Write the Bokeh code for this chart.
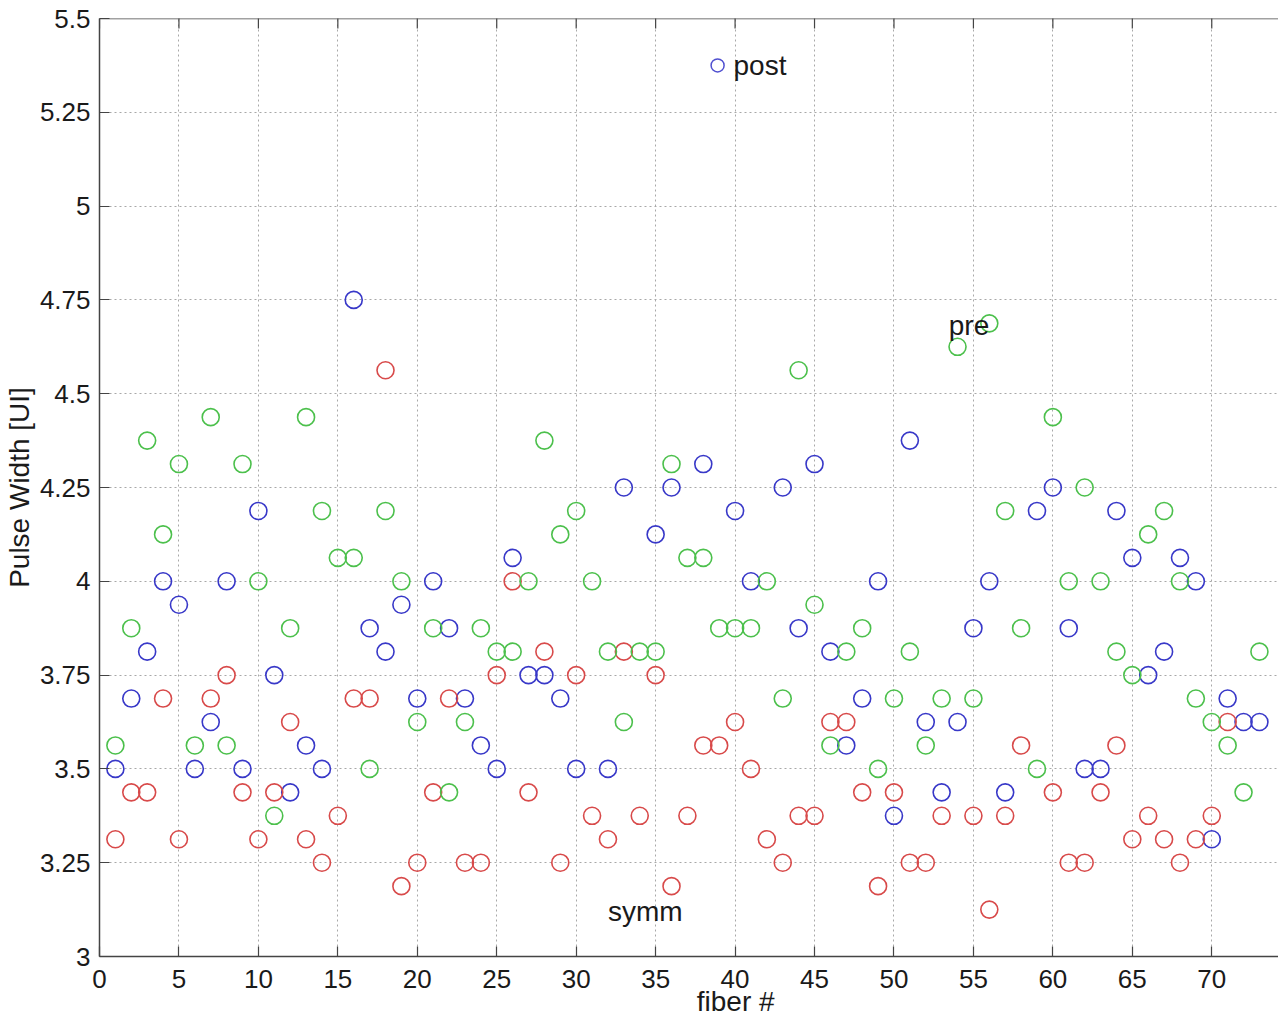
import math
import numpy as np
from bokeh.plotting import figure
from bokeh.models import FixedTicker, Range1d, ColumnDataSource, Span
from bokeh.core.properties import value
from bokeh.embed import file_html
from bokeh.resources import INLINE

NaN = float("nan")

fiber = list(range(1, 74))

post = [3.5, 3.6875, 3.8125, 4.0, 3.9375, 3.5, 3.625, 4.0, 3.5, 4.1875,
        3.75, 3.4375, 3.5625, 3.5, NaN, 4.75, 3.875, 3.8125, 3.9375, 3.6875,
        4.0, 3.875, 3.6875, 3.5625, 3.5, 4.0625, 3.75, 3.75, 3.6875, 3.5,
        NaN, 3.5, 4.25, NaN, 4.125, 4.25, NaN, 4.3125, NaN, 4.1875,
        4.0, NaN, 4.25, 3.875, 4.3125, 3.8125, 3.5625, 3.6875, 4.0, 3.375,
        4.375, 3.625, 3.4375, 3.625, 3.875, 4.0, 3.4375, NaN, 4.1875, 4.25,
        3.875, 3.5, 3.5, 4.1875, 4.0625, 3.75, 3.8125, 4.0625, 4.0, 3.3125,
        3.6875, 3.625, 3.625]

symm = [3.3125, 3.4375, 3.4375, 3.6875, 3.3125, NaN, 3.6875, 3.75, 3.4375, 3.3125,
        3.4375, 3.625, 3.3125, 3.25, 3.375, 3.6875, 3.6875, 4.5625, 3.1875, 3.25,
        3.4375, 3.6875, 3.25, 3.25, 3.75, 4.0, 3.4375, 3.8125, 3.25, 3.75,
        3.375, 3.3125, 3.8125, 3.375, 3.75, 3.1875, 3.375, 3.5625, 3.5625, 3.625,
        3.5, 3.3125, 3.25, 3.375, 3.375, 3.625, 3.625, 3.4375, 3.1875, 3.4375,
        3.25, 3.25, 3.375, NaN, 3.375, 3.125, 3.375, 3.5625, NaN, 3.4375,
        3.25, 3.25, 3.4375, 3.5625, 3.3125, 3.375, 3.3125, 3.25, 3.3125, 3.375,
        3.625, NaN, NaN]

pre = [3.5625, 3.875, 4.375, 4.125, 4.3125, 3.5625, 4.4375, 3.5625, 4.3125, 4.0,
       3.375, 3.875, 4.4375, 4.1875, 4.0625, 4.0625, 3.5, 4.1875, 4.0, 3.625,
       3.875, 3.4375, 3.625, 3.875, 3.8125, 3.8125, 4.0, 4.375, 4.125, 4.1875,
       4.0, 3.8125, 3.625, 3.8125, 3.8125, 4.3125, 4.0625, 4.0625, 3.875, 3.875,
       3.875, 4.0, 3.6875, 4.5625, 3.9375, 3.5625, 3.8125, 3.875, 3.5, 3.6875,
       3.8125, 3.5625, 3.6875, 4.625, 3.6875, 4.6875, 4.1875, 3.875, 3.5, 4.4375,
       4.0, 4.25, 4.0, 3.8125, 3.75, 4.125, 4.1875, 4.0, 3.6875, 3.625,
       3.5625, 3.4375, 3.8125]

x_ticks = list(range(0, 71, 5))
y_ticks = [3.0, 3.25, 3.5, 3.75, 4.0, 4.25, 4.5, 4.75, 5.0, 5.25, 5.5]
y_tick_labels = ["3", "3.25", "3.5", "3.75", "4", "4.25", "4.5", "4.75", "5", "5.25", "5.5"]
x_min, x_max = 0, 74.2      # the original axes run further right; the picture is cut here
y_min, y_max = 3.0, 5.5

# text annotations in the plot (label, x, y)
notes = [("post", 39.9, 5.375), ("pre", 53.45, 4.683), ("symm", 32.0, 3.12)]
post_marker = (38.9, 5.375)

FONT = "Liberation Sans"
AXC = "#444444"
TXT = "#1a1a1a"

p = figure(width=1278, height=1019, output_backend="svg", toolbar_location=None,
           x_range=Range1d(x_min, x_max), y_range=Range1d(y_min, y_max),
           min_border_left=99, min_border_right=0, min_border_top=18, min_border_bottom=62)
p.background_fill_color = "white"
p.border_fill_color = "white"
p.outline_line_color = None

xax = p.below[0]
yax = p.left[0]
xax.ticker = FixedTicker(ticks=x_ticks)
yax.ticker = FixedTicker(ticks=y_ticks)

for ax in (xax, yax):
    ax.major_tick_in = 10
    ax.major_tick_out = 0
    ax.minor_tick_line_color = None
    ax.axis_line_color = AXC
    ax.axis_line_width = 1.5
    ax.major_tick_line_color = AXC
    ax.major_tick_line_width = 1.2
    ax.major_label_text_font = FONT
    ax.major_label_text_font_size = "26px"
    ax.major_label_text_color = TXT
    ax.axis_label_text_font = FONT
    ax.axis_label_text_font_size = "28px"
    ax.axis_label_text_font_style = "normal"
    ax.axis_label_text_color = TXT

yax.major_label_overrides = {t: l for t, l in zip(y_ticks, y_tick_labels)}
yax.axis_label = "Pulse Width [UI]"
# the original x label is centred on the full (wider, cut-off) axes, so it sits right of centre
xax.axis_label = "\u00a0" * 12 + "fiber #"
xax.major_label_standoff = 13
xax.axis_label_standoff = -5
yax.major_label_standoff = 9
yax.axis_label_standoff = 2

p.xgrid.ticker = FixedTicker(ticks=x_ticks)
p.ygrid.ticker = FixedTicker(ticks=y_ticks)
for g in (p.xgrid[0], p.ygrid[0]):
    g.grid_line_color = "#a8a8a8"
    g.grid_line_dash = "2 3"
    g.grid_line_width = 1

# top border of the box and its inward ticks
p.add_layout(Span(location=y_max, dimension="width", line_color=AXC, line_width=1.5))
p.scatter(x_ticks, [y_max] * len(x_ticks), marker="dash", size=20, angle=math.pi / 2,
          line_color=AXC, line_width=1.2)

src = ColumnDataSource(dict(fiber=fiber, post=np.array(post), symm=np.array(symm), pre=np.array(pre)))

p.scatter("fiber", "post", source=src, marker="circle", size=17, fill_color=None,
          line_color="#3838c8", line_width=1.6)
p.scatter("fiber", "symm", source=src, marker="circle", size=17, fill_color=None,
          line_color="#d84a4a", line_width=1.6)
p.scatter("fiber", "pre", source=src, marker="circle", size=17, fill_color=None,
          line_color="#4cc04c", line_width=1.6)

p.scatter([post_marker[0]], [post_marker[1]], marker="circle", size=13, fill_color=None,
          line_color="#5050d0", line_width=1.5)
p.text(x=[n[1] for n in notes], y=[n[2] for n in notes], text=[n[0] for n in notes],
       text_font=value(FONT), text_font_size="28px", text_color=TXT,
       text_baseline="middle", text_align="left")

open("out.html", "w").write(file_html(p, INLINE))
